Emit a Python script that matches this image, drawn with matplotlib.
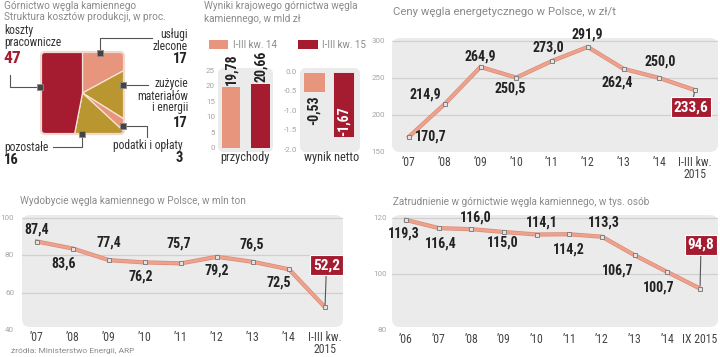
import matplotlib
matplotlib.use('Agg')
import matplotlib.pyplot as plt
from matplotlib import font_manager as fm
from matplotlib.patches import Wedge, FancyBboxPatch, Rectangle
import matplotlib.patheffects as pe

# ---------------- data ----------------
cost_labels = ['usługi\nzlecone', 'zużycie\nmateriałów\ni energii', 'podatki i opłaty',
               'pozostałe', 'koszty\npracownicze']
cost_values = [17, 17, 3, 16, 47]

res_series = ['I-III kw. 14', 'I-III kw. 15']
res_groups = ['przychody', 'wynik netto']
revenue = [19.78, 20.66]
net_result = [-0.53, -1.67]
rev_ticks = [0, 5, 10, 15, 20, 25]
net_ticks = [0.0, -0.5, -1.0, -1.5, -2.0]

price_cats = ['’07', '’08', '’09', '’10', '’11', '’12', '’13', '’14', 'I-III kw.\n2015']
price_vals = [170.7, 214.9, 264.9, 250.5, 273.0, 291.9, 262.4, 250.0, 233.6]
price_ticks = [150, 200, 250, 300]

prod_cats = ['’07', '’08', '’09', '’10', '’11', '’12', '’13', '’14', 'I-III kw.\n2015']
prod_vals = [87.4, 83.6, 77.4, 76.2, 75.7, 79.2, 76.5, 72.5, 52.2]
prod_ticks = [40, 60, 80, 100]

emp_cats = ['’06', '’07', '’08', '’09', '’10', '’11', '’12', '’13', '’14', 'IX 2015']
emp_vals = [119.3, 116.4, 116.0, 115.0, 114.1, 114.2, 113.3, 106.7, 100.7, 94.8]
emp_ticks = [80, 100, 120]

titles = {
    'cost': ['Górnictwo węgla kamiennego', 'Struktura kosztów produkcji, w proc.'],
    'res': ['Wyniki krajowego górnictwa węgla', 'kamiennego, w mld zł'],
    'price': 'Ceny węgla energetycznego w Polsce, w zł/t',
    'prod': 'Wydobycie węgla kamiennego w Polsce, w mln ton',
    'emp': 'Zatrudnienie w górnictwie węgla kamiennego, w tys. osób',
    'src': 'źródła: Ministerstwo Energii, ARP',
}

# ---------------- style ----------------
def pick(cands):
    for c in cands:
        try:
            fm.findfont(fm.FontProperties(family=c), fallback_to_default=False)
            return c
        except Exception:
            pass
    return 'DejaVu Sans'

NARROW = pick(['Roboto Condensed', 'Liberation Sans Narrow', 'Open Sans Condensed', 'Liberation Sans'])
LIGHT = pick(['Roboto', 'Lato', 'Open Sans', 'Liberation Sans'])

RED = '#A51B30'
SALMON = '#E8957E'
GOLD = '#B9962F'
LINE = '#EDA28D'
BG = '#EBEBEB'
GRID = '#D0D0D0'
DARK = '#222222'
TITLE_C = '#8A8A8A'
TICK_C = '#A5A5A5'

W, H = 720, 357
fig = plt.figure(figsize=(7.2, 3.57), dpi=100)
fig.patch.set_facecolor('white')


def add_ax(x0, y0, x1, y1):
    ax = fig.add_axes([x0 / W, 1 - y1 / H, (x1 - x0) / W, (y1 - y0) / H])
    for s in ax.spines.values():
        s.set_visible(False)
    ax.patch.set_visible(False)
    ax.set_xticks([])
    ax.set_yticks([])
    ax._pxsize = (x1 - x0, y1 - y0)
    return ax


def panel_bg(ax, radius_px=8):
    wpx, hpx = ax._pxsize
    bg = FancyBboxPatch((0, 0), 1, 1, boxstyle='round,pad=0,rounding_size=%f' % (radius_px / wpx),
                        mutation_aspect=wpx / hpx, transform=ax.transAxes,
                        fc=BG, ec='none', zorder=0, clip_on=False)
    ax.add_patch(bg)


def ytick_labels(ax, ticks, labels, pad_px):
    for t, l in zip(ticks, labels):
        ax.annotate(l, (0, t), xycoords=ax.get_yaxis_transform(), xytext=(-pad_px, 0),
                    textcoords='offset pixels', ha='right', va='center',
                    fontsize=5.8, color=TICK_C, family=LIGHT, annotation_clip=False)


def fmt1(v):
    return ('%.1f' % v).replace('.', ',')


def fmt2(v):
    return ('%.2f' % v).replace('.', ',')


def line_panel(box, xlim, ylim, cats, vals, ticks, tick_pad, offsets, xpad):
    ax = add_ax(*box)
    ax.set_xlim(*xlim)
    ax.set_ylim(*ylim)
    panel_bg(ax)
    for t in ticks:
        if ylim[0] + 1e-6 < t < ylim[1] - 1e-6:
            ax.axhline(t, color=GRID, lw=0.9, zorder=1)
    ytick_labels(ax, ticks, [str(t) for t in ticks], tick_pad)
    x = list(range(len(vals)))
    ax.plot(x, vals, color=LINE, lw=2.0, zorder=3, solid_joinstyle='miter',
            path_effects=[pe.Stroke(linewidth=3.0, foreground='#DC8A74'), pe.Normal()])
    ax.plot(x, vals, 's', ms=3.4, mfc='#E2E2E2', mec='#808080', mew=0.7, zorder=4)
    ax.set_xticks(x)
    ax.set_xticklabels(cats, fontsize=8.5, color='#444444', family=NARROW, linespacing=0.85)
    ax.tick_params(axis='x', length=0, pad=xpad)
    n = len(vals)
    for i, (v, (dx, dy)) in enumerate(zip(vals, offsets)):
        if i < n - 1:
            ax.annotate(fmt1(v), (i, v), xytext=(dx, dy), textcoords='offset pixels',
                        ha='center', va='center', fontsize=10, fontweight='bold',
                        color=DARK, family=NARROW, zorder=5)
        else:
            ax.annotate(fmt1(v), (i, v), xytext=(dx, dy), textcoords='offset pixels',
                        ha='center', va='center', fontsize=11, fontweight='bold',
                        color='white', family=NARROW, zorder=6,
                        bbox=dict(boxstyle='square,pad=0.18', fc=RED, ec='white', lw=0.8),
                        arrowprops=dict(arrowstyle='-', color='#555555', lw=0.8,
                                        shrinkA=0, shrinkB=2))
    return ax


# ---------------- price chart ----------------
price_off = [(22, 0), (-19, 9), (0, 10), (-6, -11), (-4, 13), (-1, 12.5),
             (-6, -14), (1, 16.5), (-4, -17)]
line_panel((392, 38, 718, 152), (-0.476, 8.643), (150, 304.05), price_cats, price_vals,
           price_ticks, 7, price_off, 3)

# ---------------- production chart ----------------
prod_off = [(0, 11.5), (-9.5, -14.5), (0, 18), (-4, -14.6), (-2.5, 19.4), (0, -14),
            (-1.5, 17), (-10.5, -13.7), (1.5, 42)]
line_panel((22, 215, 343, 327), (-0.417, 8.5), (41.6, 101.6), prod_cats, prod_vals,
           prod_ticks, 8, prod_off, 3)

# ---------------- employment chart ----------------
emp_off = [(-2, -14), (2, -15), (4, 12), (-1, -11), (5, 11.5), (-1, -15), (2, 14),
           (-17, -15), (-9, -15), (1, 43.6)]
line_panel((392, 215, 718, 327), (-0.43, 9.55), (81.07, 121.07), emp_cats, emp_vals,
           emp_ticks, 5, emp_off, 4)

# ---------------- results bar charts ----------------
axL = add_ax(218, 68, 273, 152)
axL.set_xlim(-0.44, 1.42)
axL.set_ylim(-1.3, 25.87)
panel_bg(axL, 6)
axL.bar([0, 1], revenue, width=0.64, color=[SALMON, RED], zorder=2)
for i, v in enumerate(revenue):
    axL.annotate(fmt2(v), (i, v), xytext=(0, 2), textcoords='offset pixels', rotation=90,
                 ha='center', va='bottom', fontsize=10, fontweight='bold', color=DARK,
                 family=NARROW, annotation_clip=False)
ytick_labels(axL, rev_ticks, [str(t) for t in rev_ticks], 3)

axR = add_ax(300, 68, 360, 152)
axR.set_xlim(-0.475, 1.56)
axR.set_ylim(-2.051, 0.0945)
panel_bg(axR, 6)
axR.bar([0, 1], net_result, width=0.72, color=[SALMON, RED], zorder=2,
        edgecolor='#F4F4F4', linewidth=0.6)
axR.annotate(fmt2(net_result[0]), (0, net_result[0]), xytext=(0, -3), textcoords='offset pixels',
             rotation=90, ha='center', va='top', fontsize=10, fontweight='bold', color=DARK,
             family=NARROW)
axR.annotate(fmt2(net_result[1]), (1, net_result[1]), xytext=(0, 1), textcoords='offset pixels',
             rotation=90, ha='center', va='bottom', fontsize=10, fontweight='bold',
             color='white', family=NARROW, zorder=5)
ytick_labels(axR, net_ticks, ['%.1f' % t for t in net_ticks], 3)

# ---------------- cost structure square pie ----------------
axP = add_ax(41, 52, 124, 134)
axP.set_xlim(-1, 1)
axP.set_ylim(-1, 1)
sq_clip = FancyBboxPatch((-1, -1), 2, 2, boxstyle='round,pad=0,rounding_size=0.1',
                         transform=axP.transData, fc='none', ec='none')
pie_colors = [SALMON, GOLD, SALMON, GOLD, RED]
theta = 90.0
for v, c in zip(cost_values, pie_colors):
    t1 = theta - v * 3.6
    w = Wedge((0, 0), 1.6, t1, theta, fc=c, ec='#F7E4D6', lw=0.9, zorder=2)
    axP.add_patch(w)
    w.set_clip_path(sq_clip)
    theta = t1
axP.add_patch(FancyBboxPatch((-1, -1), 2, 2, boxstyle='round,pad=0,rounding_size=0.1',
                             fc='none', ec='#F0DAD0', lw=1.6, zorder=3, clip_on=False))

# ---------------- overlay (pixel coordinates) ----------------
ov = fig.add_axes([0, 0, 1, 1])
ov.set_xlim(0, W)
ov.set_ylim(H, 0)
ov.axis('off')
ov.patch.set_alpha(0)


def ttl(x, y, s, size=7.2):
    ov.text(x, y, s, fontsize=size, color=TITLE_C, family=LIGHT, ha='left', va='center')


ttl(4, 6, titles['cost'][0])
ttl(4, 17.5, titles['cost'][1])
ttl(204, 6, titles['res'][0])
ttl(204, 18.5, titles['res'][1])
ttl(393, 12, titles['price'], 8.2)
ttl(20, 201, titles['prod'])
ttl(393, 202, titles['emp'])
ov.text(11, 351, titles['src'], fontsize=6, color='#8A8A8A', family=LIGHT, ha='left', va='center')

# legend of the bar charts
ov.add_patch(Rectangle((209, 40), 19, 9, fc=SALMON, ec='none'))
ov.text(233, 44.5, res_series[0], fontsize=7, color=TITLE_C, family=LIGHT, va='center')
ov.add_patch(Rectangle((298, 40), 20, 9, fc=RED, ec='none'))
ov.text(322, 44.5, res_series[1], fontsize=7, color=TITLE_C, family=LIGHT, va='center')
ov.text(245, 158, res_groups[0], fontsize=8.8, color='#333333', family=NARROW, ha='center', va='center')
ov.text(332, 158, res_groups[1], fontsize=8.8, color='#333333', family=NARROW, ha='center', va='center')

# pie labels: (label pos, ha, number pos, leader path)
pie_ann = [
    ((188, 40.5), 'right', (188, 59), [(152, 38), (100, 38), (100, 53)]),
    ((188, 96), 'right', (188, 123), [(148, 85), (123, 85)]),
    ((183, 145), 'right', (183, 158), [(147, 137), (147, 126), (123, 126)]),
    ((4, 147), 'left', (4, 160), [(53, 147), (82, 147), (82, 134)]),
    ((4, 36.5), 'left', (3, 58.5), [(10, 75), (10, 87), (40, 87)]),
]
for lab, v, (lp, ha, np_, path) in zip(cost_labels, cost_values, pie_ann):
    ov.text(lp[0], lp[1], lab, fontsize=8.3, color='#333333', family=NARROW, ha=ha,
            va='center', linespacing=0.9, multialignment=ha)
    big = (v == max(cost_values))
    ov.text(np_[0], np_[1], str(v), fontsize=12.5 if big else 10.5, fontweight='bold',
            color=RED if big else DARK, family=NARROW, ha=ha, va='center')
    xs = [p[0] for p in path]
    ys = [p[1] for p in path]
    ov.plot(xs, ys, color='#555555', lw=0.8, zorder=5)
    ov.plot([xs[-1]], [ys[-1]], 's', ms=4, mfc='#444444', mec='#8C8C8C', mew=0.6, zorder=6)

fig.savefig('out.png', dpi=100, facecolor='white')
